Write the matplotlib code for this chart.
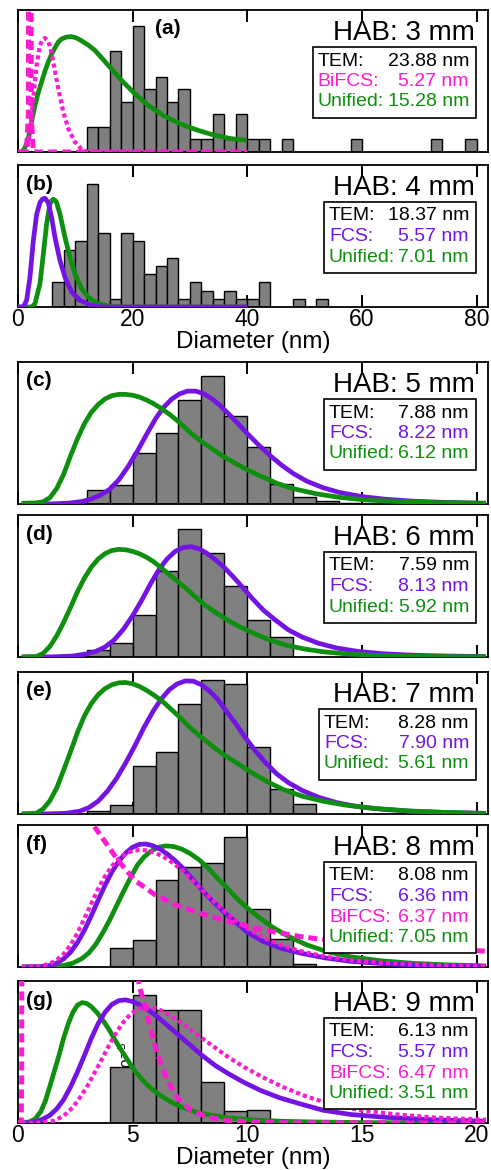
import numpy as np
import matplotlib.pyplot as plt
from matplotlib.patches import Rectangle
from matplotlib.transforms import Affine2D

plt.rcParams['font.family'] = ['Liberation Sans', 'DejaVu Sans']

GREEN = '#0f8f0f'
PURPLE = '#7414e4'
MAGENTA = '#fb1bd0'
GRAY = '#808080'

# ---------------- data ----------------
hab_mm = ['3', '4', '5', '6', '7', '8', '9']
labels = ['(a)', '(b)', '(c)', '(d)', '(e)', '(f)', '(g)']

# (a) HAB 3 mm : TEM counts, 2 nm bins
a_bin = [12, 14, 16, 18, 20, 22, 24, 26, 28, 30, 32, 34, 36, 38, 40, 42, 46, 58, 72, 78]
a_cnt = [2, 2, 8, 4, 10, 5, 6, 4, 5, 1, 1, 3, 1, 3, 1, 1, 1, 1, 1, 1]
a_uni_x = [0.6, 1.0, 1.4, 1.83, 2.4, 2.99, 3.55, 4.15, 4.7, 5.31, 5.9, 6.48, 7.06, 7.64, 8.5,
           9.38, 10.2, 11.12, 12.3, 13.44, 14.6, 15.76, 18.08, 20.4, 22.72, 25.62, 28.52,
           31.42, 34.32, 37.23, 39.84]
a_uni_y = [0, 0.15, 0.5, 1.06, 2.4, 3.71, 4.7, 5.57, 6.4, 7.16, 7.8, 8.3, 8.75, 9.0, 9.15,
           9.18, 9.08, 8.85, 8.5, 8.09, 7.5, 6.9, 5.7, 4.64, 3.71, 2.84, 2.2, 1.72, 1.33,
           1.06, 0.93]
a_bi_x = [0, 1.54, 2.12, 2.70, 3.28, 3.86, 4.3, 4.73, 5.15, 5.60, 6.18, 7.06, 7.93, 8.80,
          9.96, 11.12, 12.28, 40]
a_bi_y = [0, 0, 1.59, 4.24, 6.9, 8.5, 8.95, 9.07, 8.9, 8.45, 7.16, 5.04, 3.18, 1.86,
          0.8, 0.21, 0, 0]
a_bi2_x = [0, 1.5, 1.85, 1.9, 2.3, 2.35, 2.7, 40]
a_bi2_y = [0, 0, 3, 20, 20, 3, 0, 0]

# (b) HAB 4 mm
b_bin = [6, 8, 10, 12, 14, 16, 18, 20, 22, 24, 26, 28, 30, 32, 34, 36, 38, 40, 42, 48, 52]
b_cnt = [3, 7, 8, 15, 9, 1, 9, 8, 4, 5, 6, 1, 3, 2, 1, 2, 1, 1, 3, 1, 1]
b_fcs_x = [0, 0.96, 1.54, 2.12, 2.70, 3.29, 3.87, 4.3, 4.73, 5.31, 5.89, 6.48, 7.35, 8.22,
           9.38, 10.83, 12.86, 14.89, 40]
b_fcs_y = [0, 0, 0.81, 3.64, 8.08, 11.31, 12.73, 13.15, 13.25, 12.73, 10.91, 8.48, 5.66,
           3.64, 1.82, 0.81, 0.2, 0, 0]
b_uni_x = [0, 2.41, 2.99, 3.86, 4.45, 5.02, 5.60, 5.9, 6.18, 6.5, 6.77, 7.35, 8.22, 9.09,
           9.96, 11.12, 12.28, 13.73, 15.76, 18.08, 40]
b_uni_y = [0, 0, 0.4, 2.83, 6.46, 10.1, 12.53, 12.95, 13.13, 13.0, 12.73, 11.31, 8.48, 6.06,
           4.04, 2.22, 1.21, 0.48, 0.12, 0, 0]

# (c) HAB 5 mm : relative frequency, 1 nm bins
c_bin = [3, 4, 5, 6, 7, 8, 9, 10, 11, 12, 13, 14]
c_frq = [0.098, 0.134, 0.356, 0.497, 0.731, 0.9, 0.618, 0.403, 0.141, 0.047, 0.021, 0.007]
c_fcs_x = [0.17, 1.5, 2.2, 2.8, 3.2, 3.6, 4.0, 4.4, 4.8, 5.2, 5.6, 6.0, 6.35, 6.7, 7.05,
           7.4, 7.75, 8.1, 8.45, 8.8, 9.2, 9.6, 10.0, 10.5, 11.0, 11.5, 12.0, 12.6, 13.3,
           14.0, 15.0, 16.0, 17.2, 18.5, 20.4]
c_fcs_y = [0, 0.001, 0.006, 0.018, 0.035, 0.063, 0.103, 0.17, 0.262, 0.37, 0.487, 0.6,
           0.68, 0.738, 0.776, 0.795, 0.795, 0.777, 0.742, 0.696, 0.632, 0.565, 0.496,
           0.415, 0.34, 0.273, 0.215, 0.16, 0.115, 0.082, 0.052, 0.034, 0.02, 0.012, 0.005]
c_uni_x = [0.17, 0.8, 1.11, 1.4, 1.7, 2.0, 2.3, 2.6, 2.9, 3.2, 3.5, 3.8, 4.1, 4.4, 4.7,
           5.0, 5.3, 5.6, 5.9, 6.2, 6.6, 7.0, 7.5, 8.0, 8.5, 9.0, 9.5, 10.0, 10.6, 11.3,
           12.0, 13.0, 14.0, 15.2, 16.5, 18.0, 20.4]
c_uni_y = [0.005, 0.008, 0.016, 0.045, 0.11, 0.21, 0.34, 0.46, 0.565, 0.645, 0.70, 0.74,
           0.763, 0.772, 0.772, 0.766, 0.753, 0.733, 0.708, 0.678, 0.633, 0.58, 0.505,
           0.44, 0.385, 0.33, 0.285, 0.24, 0.195, 0.145, 0.108, 0.072, 0.047, 0.028,
           0.018, 0.011, 0.005]

# (d) HAB 6 mm
d_bin = [3, 4, 5, 6, 7, 8, 9, 10, 11]
d_frq = [0.049, 0.1, 0.294, 0.603, 0.902, 0.731, 0.502, 0.259, 0.143]
d_fcs_x = [0.17, 1.5, 2.4, 3.0, 3.4, 3.8, 4.2, 4.6, 5.0, 5.4, 5.8, 6.15, 6.5, 6.85, 7.2,
           7.55, 7.9, 8.25, 8.6, 9.0, 9.4, 9.8, 10.2, 10.7, 11.2, 11.8, 12.4, 13.1, 13.9,
           14.8, 15.9, 17.2, 18.6, 20.4]
d_fcs_y = [0, 0.001, 0.007, 0.022, 0.04, 0.07, 0.12, 0.195, 0.29, 0.4, 0.52, 0.615, 0.69,
           0.743, 0.771, 0.777, 0.762, 0.729, 0.686, 0.63, 0.562, 0.49, 0.415, 0.33,
           0.263, 0.19, 0.14, 0.097, 0.063, 0.04, 0.023, 0.013, 0.007, 0.003]
d_uni_x = [0.17, 0.8, 1.1, 1.4, 1.7, 2.0, 2.3, 2.6, 2.9, 3.2, 3.5, 3.8, 4.1, 4.4, 4.7, 5.0,
           5.3, 5.6, 5.9, 6.25, 6.6, 7.0, 7.4, 7.8, 8.2, 8.7, 9.2, 9.7, 10.3, 11.0, 11.7,
           12.5, 13.3, 14.3, 15.5, 17.0, 18.5, 20.4]
d_uni_y = [0, 0.003, 0.025, 0.075, 0.15, 0.245, 0.35, 0.46, 0.555, 0.632, 0.69, 0.728,
           0.75, 0.758, 0.755, 0.744, 0.727, 0.703, 0.673, 0.628, 0.58, 0.527, 0.473,
           0.415, 0.36, 0.305, 0.255, 0.21, 0.165, 0.118, 0.083, 0.056, 0.037, 0.022,
           0.012, 0.006, 0.003, 0.001]

# (e) HAB 7 mm
e_bin = [3, 4, 5, 6, 7, 8, 9, 10, 11, 12]
e_frq = [0.02, 0.064, 0.341, 0.435, 0.776, 0.946, 0.918, 0.475, 0.176, 0.071]
e_fcs_x = [0.17, 1.3, 2.1, 2.7, 3.1, 3.5, 3.9, 4.3, 4.7, 5.1, 5.5, 5.9, 6.25, 6.6, 6.95,
           7.3, 7.65, 8.0, 8.35, 8.7, 9.1, 9.5, 9.9, 10.35, 10.8, 11.3, 11.8, 12.4, 13.1,
           13.9, 14.8, 15.9, 17.2, 18.6, 20.4]
e_fcs_y = [0, 0.001, 0.005, 0.02, 0.045, 0.09, 0.16, 0.25, 0.36, 0.48, 0.61, 0.725, 0.81,
           0.875, 0.917, 0.937, 0.935, 0.91, 0.867, 0.81, 0.72, 0.635, 0.54, 0.445, 0.36,
           0.28, 0.22, 0.165, 0.118, 0.08, 0.052, 0.033, 0.019, 0.011, 0.004]
e_uni_x = [0.17, 0.8, 1.1, 1.4, 1.7, 2.0, 2.3, 2.6, 2.9, 3.2, 3.5, 3.8, 4.1, 4.4, 4.7, 5.0,
           5.3, 5.6, 5.95, 6.3, 6.7, 7.1, 7.5, 8.0, 8.5, 9.0, 9.6, 10.2, 10.9, 11.6, 12.4,
           13.3, 14.3, 15.5, 17.0, 18.5, 20.4]
e_uni_y = [0, 0.005, 0.035, 0.094, 0.185, 0.31, 0.44, 0.575, 0.69, 0.777, 0.84, 0.883,
           0.91, 0.924, 0.926, 0.917, 0.898, 0.872, 0.835, 0.794, 0.735, 0.675, 0.61, 0.54,
           0.475, 0.415, 0.353, 0.29, 0.225, 0.17, 0.125, 0.09, 0.062, 0.04, 0.022, 0.012,
           0.004]

# (f) HAB 8 mm
f_bin = [4, 5, 6, 7, 8, 9, 10, 11, 12]
f_frq = [0.134, 0.188, 0.616, 0.706, 0.734, 0.913, 0.405, 0.197, 0.023]
f_fcs_x = [0.17, 1.0, 1.4, 1.7, 2.0, 2.3, 2.6, 2.9, 3.2, 3.5, 3.8, 4.1, 4.4, 4.7, 5.0, 5.3,
           5.6, 5.9, 6.2, 6.5, 6.85, 7.2, 7.6, 8.0, 8.4, 8.9, 9.4, 10.0, 10.7, 11.5, 12.4,
           13.4, 14.5, 15.8, 17.3, 18.9, 20.4]
f_fcs_y = [0, 0.003, 0.011, 0.028, 0.058, 0.105, 0.172, 0.258, 0.36, 0.47, 0.575, 0.67,
           0.745, 0.803, 0.843, 0.864, 0.866, 0.853, 0.83, 0.797, 0.75, 0.695, 0.62, 0.548,
           0.478, 0.4, 0.33, 0.245, 0.18, 0.13, 0.095, 0.064, 0.04, 0.025, 0.014, 0.008,
           0.004]
f_bi_x = [0.17, 0.8, 1.1, 1.4, 1.7, 2.0, 2.3, 2.6, 2.9, 3.2, 3.5, 3.8, 4.1, 4.4, 4.7, 5.0,
          5.35, 5.7, 6.05, 6.4, 6.8, 7.2, 7.6, 8.0, 8.5, 9.0, 9.5, 10.1, 10.8, 11.6, 12.5,
          13.5, 14.6, 15.9, 17.4, 18.9, 20.4]
f_bi_y = [0, 0.003, 0.01, 0.024, 0.05, 0.092, 0.155, 0.24, 0.34, 0.445, 0.55, 0.64, 0.71,
          0.763, 0.798, 0.818, 0.825, 0.819, 0.8, 0.771, 0.728, 0.675, 0.612, 0.548, 0.468,
          0.395, 0.328, 0.262, 0.2, 0.146, 0.104, 0.07, 0.046, 0.029, 0.017, 0.01, 0.006]
f_bi2_x = [1.5, 2.2, 2.8, 3.29, 3.8, 4.38, 5.1, 5.97, 6.84, 8.0, 9.3, 10.8, 12.3, 13.2,
           15.0, 18.0, 20.5]
f_bi2_y = [1.5, 1.3, 1.13, 1.0, 0.882, 0.748, 0.61, 0.51, 0.44, 0.375, 0.315, 0.258, 0.215,
           0.195, 0.17, 0.135, 0.11]
f_uni_x = [0.17, 1.5, 2.0, 2.4, 2.8, 3.1, 3.4, 3.7, 4.0, 4.3, 4.6, 4.9, 5.2, 5.5, 5.8, 6.1,
           6.45, 6.8, 7.15, 7.5, 7.9, 8.3, 8.7, 9.1, 9.5, 10.0, 10.5, 11.1, 11.8, 12.6,
           13.5, 14.5, 15.8, 17.3, 18.9, 20.4]
f_uni_y = [0, 0.003, 0.011, 0.027, 0.06, 0.1, 0.16, 0.24, 0.33, 0.43, 0.53, 0.625, 0.715,
           0.775, 0.815, 0.842, 0.853, 0.848, 0.83, 0.8, 0.755, 0.695, 0.625, 0.56, 0.49,
           0.415, 0.35, 0.28, 0.215, 0.155, 0.107, 0.072, 0.044, 0.025, 0.014, 0.008]

# (g) HAB 9 mm
g_bin = [4, 5, 6, 7, 8, 9, 10]
g_frq = [0.394, 0.9, 0.795, 0.795, 0.292, 0.087, 0.089]
g_fcs_x = [0.17, 0.5, 0.8, 1.1, 1.4, 1.7, 2.0, 2.3, 2.6, 2.9, 3.2, 3.5, 3.8, 4.1, 4.4, 4.7,
           5.0, 5.35, 5.7, 6.1, 6.5, 7.0, 7.5, 8.0, 8.6, 9.2, 9.9, 10.6, 11.4, 12.3, 13.3,
           14.5, 16.0, 18.0, 20.4]
g_fcs_y = [0, 0.002, 0.01, 0.028, 0.055, 0.1, 0.165, 0.255, 0.36, 0.475, 0.595, 0.7, 0.78,
           0.835, 0.862, 0.867, 0.855, 0.83, 0.795, 0.745, 0.69, 0.62, 0.55, 0.48, 0.405,
           0.345, 0.282, 0.228, 0.178, 0.135, 0.09, 0.06, 0.04, 0.023, 0.012]
g_bi_x = [0.17, 0.8, 1.2, 1.6, 2.0, 2.4, 2.8, 3.1, 3.4, 3.7, 4.0, 4.3, 4.6, 4.9, 5.2, 5.5,
          5.85, 6.2, 6.6, 7.0, 7.5, 8.0, 8.6, 9.2, 9.9, 10.7, 11.6, 12.6, 13.7, 15.0, 16.5,
          18.2, 20.4]
g_bi_y = [0, 0.001, 0.006, 0.017, 0.05, 0.11, 0.2, 0.28, 0.37, 0.46, 0.555, 0.64, 0.71,
          0.765, 0.8, 0.817, 0.815, 0.795, 0.76, 0.72, 0.66, 0.6, 0.53, 0.46, 0.39, 0.32,
          0.25, 0.185, 0.13, 0.088, 0.06, 0.038, 0.023]
g_bi2_x = [0, 0.15, 0.17, 0.19, 5.0, 5.24, 5.32, 5.53, 5.75, 5.97, 6.26, 6.55, 6.99, 7.57,
           8.29, 9.16, 10.5, 12.0, 20.5]
g_bi2_y = [0, 0, 0.3, 5, 5, 1.02, 0.948, 0.83, 0.689, 0.547, 0.406, 0.288, 0.17, 0.087,
           0.04, 0.017, 0.005, 0.001, 0]
g_uni_x = [0.17, 0.5, 0.75, 1.0, 1.2, 1.4, 1.6, 1.8, 2.0, 2.2, 2.4, 2.6, 2.8, 3.0, 3.2, 3.45,
           3.7, 3.95, 4.2, 4.5, 4.8, 5.1, 5.45, 5.8, 6.2, 6.6, 7.1, 7.7, 8.4, 9.2, 10.2,
           11.5, 13.0, 15.0, 17.5, 20.4]
g_uni_y = [0, 0.008, 0.028, 0.08, 0.155, 0.26, 0.37, 0.48, 0.6, 0.7, 0.78, 0.83, 0.848,
           0.842, 0.82, 0.778, 0.725, 0.665, 0.595, 0.515, 0.44, 0.365, 0.3, 0.245, 0.195,
           0.155, 0.115, 0.08, 0.055, 0.035, 0.022, 0.012, 0.007, 0.003, 0.001, 0]

# legend values (mean diameters, nm)
tem_d = ['23.88', '18.37', '7.88', '7.59', '8.28', '8.08', '6.13']
fcs_d = [None, '5.57', '8.22', '8.13', '7.90', '6.36', '5.57']
bifcs_d = ['5.27', None, None, None, None, '6.37', '6.47']
uni_d = ['15.28', '7.01', '6.12', '5.92', '5.61', '7.05', '3.51']

# ---------------- figure ----------------
W, H = 491.0, 1170.0
X0, X1 = 17.8, 488.3
PH = 142.0
fig = plt.figure(figsize=(W / 100, H / 100), dpi=100)
px = Affine2D().scale(1 / W, -1 / H).translate(0, 1) + fig.transFigure

tops = [10, 165, 362, 515, 672, 825, 981]
lab_x = [155, 26, 26, 26, 26, 26, 26]
box_left = [312.7, 324, 324, 324, 319, 324, 324]

dot = (0, (1.0, 0.75))
dash = (0, (1.8, 1.0))

panels = [
    dict(bins=a_bin, h=a_cnt, w=2, xlim=(0, 82), ylim=(0, 11.3), ticks=[0, 20, 40, 60, 80],
         curves=[(a_uni_x, a_uni_y, GREEN, '-'), (a_bi_x, a_bi_y, MAGENTA, dot),
                 (a_bi2_x, a_bi2_y, MAGENTA, dash)]),
    dict(bins=b_bin, h=b_cnt, w=2, xlim=(0, 82), ylim=(0, 17.3), ticks=[0, 20, 40, 60, 80],
         curves=[(b_uni_x, b_uni_y, GREEN, '-'), (b_fcs_x, b_fcs_y, PURPLE, '-')]),
    dict(bins=c_bin, h=c_frq, w=1, xlim=(0, 20.5), ylim=(0, 1), ticks=[0, 5, 10, 15, 20],
         curves=[(c_fcs_x, c_fcs_y, PURPLE, '-'), (c_uni_x, c_uni_y, GREEN, '-')]),
    dict(bins=d_bin, h=d_frq, w=1, xlim=(0, 20.5), ylim=(0, 1), ticks=[0, 5, 10, 15, 20],
         curves=[(d_fcs_x, d_fcs_y, PURPLE, '-'), (d_uni_x, d_uni_y, GREEN, '-')]),
    dict(bins=e_bin, h=e_frq, w=1, xlim=(0, 20.5), ylim=(0, 1), ticks=[0, 5, 10, 15, 20],
         curves=[(e_fcs_x, e_fcs_y, PURPLE, '-'), (e_uni_x, e_uni_y, GREEN, '-')]),
    dict(bins=f_bin, h=f_frq, w=1, xlim=(0, 20.5), ylim=(0, 1), ticks=[0, 5, 10, 15, 20],
         curves=[(f_uni_x, f_uni_y, GREEN, '-'), (f_fcs_x, f_fcs_y, PURPLE, '-'),
                 (f_bi_x, f_bi_y, MAGENTA, dot), (f_bi2_x, f_bi2_y, MAGENTA, dash)]),
    dict(bins=g_bin, h=g_frq, w=1, xlim=(0, 20.5), ylim=(0, 1), ticks=[0, 5, 10, 15, 20],
         curves=[(g_uni_x, g_uni_y, GREEN, '-'), (g_fcs_x, g_fcs_y, PURPLE, '-'),
                 (g_bi_x, g_bi_y, MAGENTA, dot), (g_bi2_x, g_bi2_y, MAGENTA, dash)]),
]

for i, (p, top) in enumerate(zip(panels, tops)):
    ax = fig.add_axes([X0 / W, 1 - (top + PH) / H, (X1 - X0) / W, PH / H])
    ax.bar(p['bins'], p['h'], width=p['w'], align='edge', color=GRAY,
           edgecolor='black', linewidth=1.0, zorder=2)
    for k, (x, y, col, ls) in enumerate(p['curves']):
        lw = 3.4 if ls == '-' else (3.0 if ls == dot else 3.6)
        ax.plot(x, y, color=col, lw=lw, linestyle=ls, zorder=3 + k,
                solid_capstyle='butt', dash_capstyle='butt', solid_joinstyle='round')
    ax.set_xlim(*p['xlim'])
    ax.set_ylim(*p['ylim'])
    ax.set_yticks([])
    ax.set_xticks(p['ticks'])
    show = i in (1, 6)
    ax.tick_params(axis='x', direction='in', top=True, bottom=True, length=8.5, width=1.4,
                   labelsize=16.5, pad=1.0, labelbottom=show)
    for s in ax.spines.values():
        s.set_linewidth(1.3)
    if show:
        ax.set_xlabel('Diameter (nm)', fontsize=17.5, labelpad=0)
    if i == 6:
        ax.text(4.75, 0.33, '10$^{-3}$', rotation=90, ha='center', va='bottom',
                fontsize=11, zorder=1)

    # panel letter and HAB
    fig.text(lab_x[i], top + 19, labels[i], transform=px, fontsize=15,
             fontweight='bold', ha='left', va='center')
    fig.text(475, top + 30, 'HAB: %s mm' % hab_mm[i], transform=px, fontsize=20,
             ha='right', va='baseline')

    # legend box
    rows = [('TEM:', tem_d[i] + ' nm', 'black')]
    if fcs_d[i] is not None:
        rows.append(('FCS:', fcs_d[i] + ' nm', PURPLE))
    if bifcs_d[i] is not None:
        rows.append(('BiFCS:', bifcs_d[i] + ' nm', MAGENTA))
    rows.append(('Unified:', uni_d[i] + ' nm', GREEN))
    bh = 71 if len(rows) == 3 else 91.5
    btop = top + 36.5
    bl = box_left[i]
    fig.add_artist(Rectangle((bl, btop), 476 - bl, bh, transform=px, facecolor='white',
                             edgecolor='black', linewidth=1.2, zorder=5))
    for r, (lab, val, col) in enumerate(rows):
        yy = btop + 19 + 20.5 * r
        fig.text(bl + 5, yy, lab, transform=px, color=col, fontsize=14,
                 va='baseline', ha='left', zorder=6)
        fig.text(476 - 7, yy, val, transform=px, color=col, fontsize=14,
                 va='baseline', ha='right', zorder=6)

fig.savefig('out.png', dpi=100)
